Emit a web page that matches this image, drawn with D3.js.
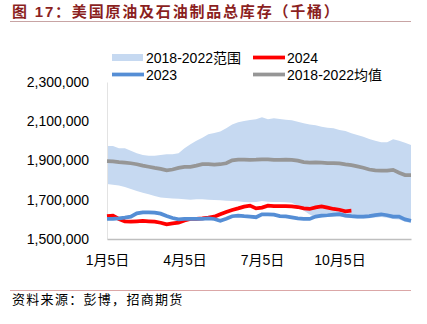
<!DOCTYPE html>
<html><head><meta charset="utf-8">
<script src="https://cdn.jsdelivr.net/npm/d3@7"></script>
<style>
html,body{margin:0;padding:0;background:#fff;}
svg{display:block;font-family:"Liberation Sans","Noto Sans CJK SC",Arial,sans-serif;}
</style></head><body>
<svg id="chart" width="427" height="324"></svg>
<script>
// ---- data (thousand barrels), weekly, 52 weeks ----
const weeks = d3.range(52);
const tickLabels = ["1月5日", "4月5日", "7月5日", "10月5日"];
const tickWeeks = [0, 13, 26, 39];
const yTicks = [1500000, 1700000, 1900000, 2100000, 2300000];

const rangeHigh = [1974,1974,1962,1962,1950,1937,1928,1924,1924,1928,1932,1932,1937,1962,1983,2001,2016,2034,
  2040,2048,2064,2084,2095,2101,2106,2110,2120,2110,2115,2111,2108,2105,2098,2090,2083,2079,2072,2067,2064,2055,
  2050,2039,2030,2021,2010,2001,1993,1993,2008,2001,1991,1979];
const rangeLow = [1780,1777,1772,1765,1755,1745,1736,1728,1719,1712,1709,1707,1705,1702,1700,1702,1702,1700,
  1699,1697,1695,1694,1692,1689,1687,1689,1694,1690,1689,1689,1687,1685,1670,1645,1625,1608,1610,1612,1614,1615,
  1610,1606,1604,1604,1606,1610,1612,1608,1602,1600,1588,1582];
const avg1822 = [1897,1896,1892,1889,1886,1881,1874,1868,1862,1857,1850,1854,1862,1867,1868,1874,1881,1882,
  1879,1881,1886,1901,1905,1904,1903,1904,1906,1906,1903,1903,1904,1903,1899,1892,1889,1890,1889,1887,1886,1885,
  1880,1876,1870,1863,1854,1850,1848,1848,1852,1838,1826,1826];
const y2023 = [1602,1603,1605,1609,1614,1631,1636,1636,1634,1629,1617,1607,1600,1603,1603,1602,1603,1605,
  1602,1593,1603,1616,1619,1616,1614,1611,1626,1626,1624,1617,1615,1610,1605,1603,1602,1614,1619,1621,1624,1627,
  1619,1616,1614,1614,1617,1622,1626,1621,1614,1614,1600,1593];
const y2024 = [1616,1619,1602,1590,1588,1590,1592,1590,1588,1583,1575,1580,1583,1594,1602,1602,1605,1609,
  1614,1626,1638,1648,1656,1665,1670,1656,1660,1670,1668,1668,1668,1666,1663,1656,1653,1661,1666,1660,1653,1649,
  1641,1644];

const legendItems = [
  {label:"2018-2022范围", type:"rect", color:"#c6d9f1"},
  {label:"2024", type:"line", color:"#ff0000"},
  {label:"2023", type:"line", color:"#558ed5"},
  {label:"2018-2022均值", type:"line", color:"#969696"}
];

// ---- drawing ----
const svg = d3.select("#chart");
const x = d3.scaleLinear().domain([0, 51]).range([107, 411]);
const y = d3.scaleLinear().domain([1500000, 2300000]).range([239, 82]);

// title
svg.append("text").attr("x", 12).attr("y", 17)
  .attr("font-size", 15).attr("font-weight", "bold").attr("fill", "#8b1f1f")
  .attr("letter-spacing", 1.8)
  .text("图 17：美国原油及石油制品总库存（千桶）");
svg.append("line").attr("x1", 10).attr("x2", 411).attr("y1", 21.5).attr("y2", 21.5)
  .attr("stroke", "#c8a4a4").attr("stroke-width", 1);

// band
const area = d3.area().x((d, i) => x(i)).y0((d, i) => y(rangeLow[i] * 1000)).y1(d => y(d * 1000));
svg.append("path").datum(rangeHigh).attr("d", area).attr("fill", "#c6d9f1");

// axes
const yAxis = d3.axisLeft(y).tickValues(yTicks).tickSize(0).tickPadding(18)
  .tickFormat(d3.format(","));
const gy = svg.append("g").attr("transform", "translate(107,0)").call(yAxis);
gy.select(".domain").attr("stroke", "#e3e3e3").attr("stroke-width", 1);
gy.selectAll("text").attr("font-size", 14).attr("fill", "#000")
  .attr("font-family", "Liberation Sans, Arial, sans-serif");

const xAxis = d3.axisBottom(x).tickValues(tickWeeks).tickSize(0).tickPadding(16)
  .tickFormat((d, i) => tickLabels[i]);
const gx = svg.append("g").attr("transform", "translate(0,239)").call(xAxis);
gx.select(".domain").attr("stroke", "#bfbfbf").attr("stroke-width", 1.5);
gx.selectAll("text").attr("font-size", 14).attr("fill", "#000")
  .attr("font-family", "Liberation Sans, Noto Sans CJK SC, sans-serif");

// lines
const line = d3.line().x((d, i) => x(i)).y(d => y(d * 1000));
svg.append("path").datum(avg1822).attr("d", line).attr("fill", "none")
  .attr("stroke", "#969696").attr("stroke-width", 3.75);
svg.append("path").datum(y2024).attr("d", line).attr("fill", "none")
  .attr("stroke", "#ff0000").attr("stroke-width", 3.75);
svg.append("path").datum(y2023).attr("d", line).attr("fill", "none")
  .attr("stroke", "#558ed5").attr("stroke-width", 3.75);

// legend
const legPos = [[112, 57.5], [253, 57.5], [112, 74.5], [253, 74.5]];
legendItems.forEach((it, i) => {
  const [lx, ly] = legPos[i];
  if (it.type === "rect") {
    svg.append("rect").attr("x", lx).attr("y", ly - 3.5).attr("width", 31).attr("height", 7).attr("fill", it.color);
  } else {
    svg.append("line").attr("x1", lx).attr("x2", lx + 32).attr("y1", ly).attr("y2", ly)
      .attr("stroke", it.color).attr("stroke-width", 3.75);
  }
  svg.append("text").attr("x", lx + 34).attr("y", ly + 5).attr("font-size", 14).attr("fill", "#000")
    .text(it.label);
});

// footer
svg.append("line").attr("x1", 10).attr("x2", 411).attr("y1", 290.5).attr("y2", 290.5)
  .attr("stroke", "#dba7a7").attr("stroke-width", 1);
svg.append("text").attr("x", 12).attr("y", 304).attr("font-size", 13).attr("fill", "#000")
  .attr("letter-spacing", 1.3).text("资料来源：彭博，招商期货");
</script>
</body></html>
